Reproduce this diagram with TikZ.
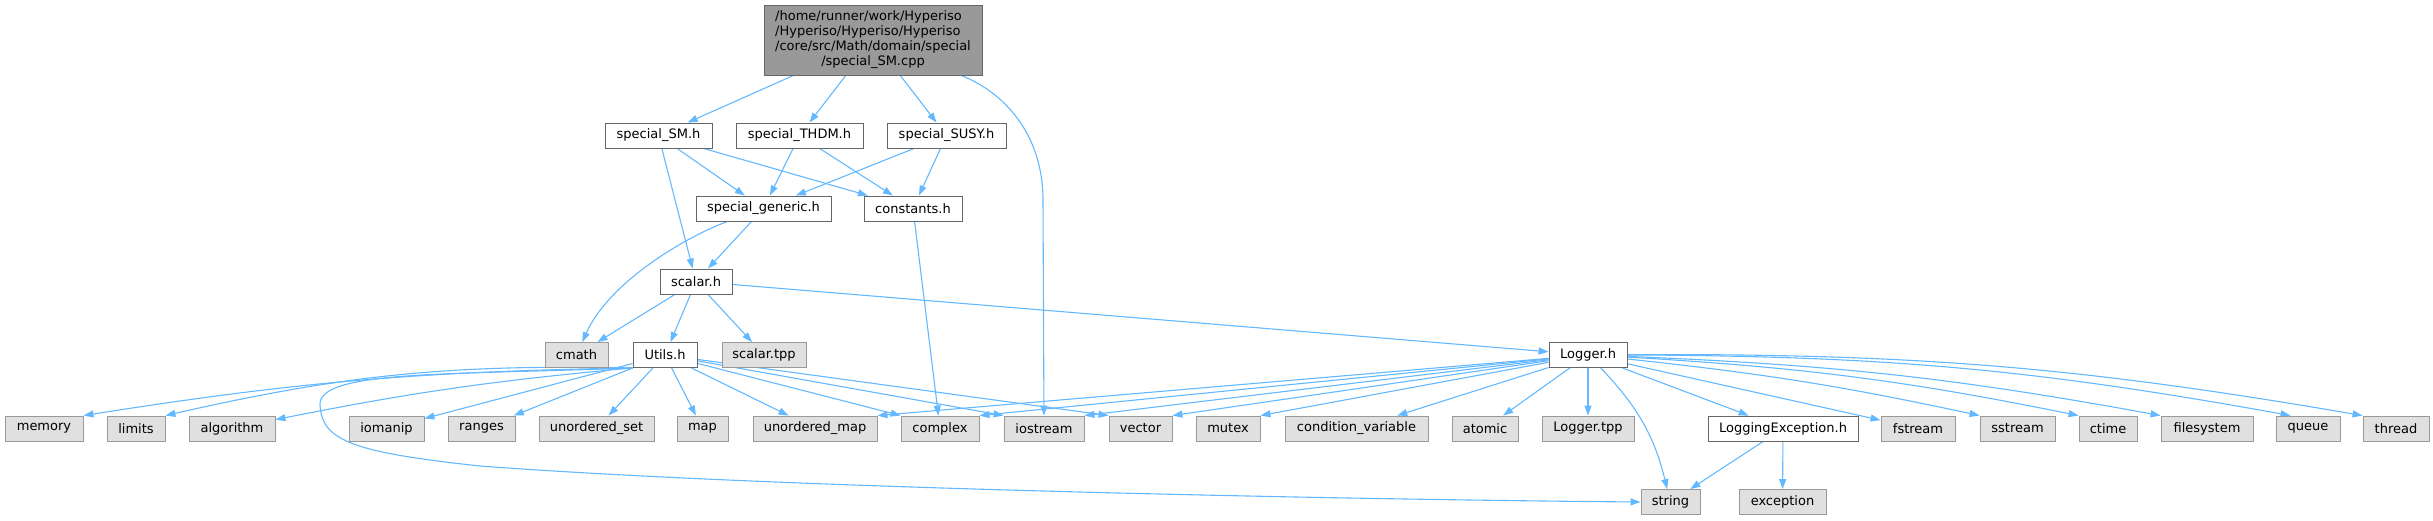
\documentclass[tikz,border=0pt]{standalone}
\usepackage{fontspec}
\setmainfont{DejaVu Sans}
\usetikzlibrary{arrows.meta,positioning,backgrounds}
\definecolor{edgeblue}{HTML}{63B8FF}
\definecolor{boxgray}{HTML}{E0E0E0}
\definecolor{rimgray}{HTML}{999999}
\definecolor{rimdark}{HTML}{666666}

\begin{document}
\begin{tikzpicture}[x=1pt,y=1pt,
  file/.style={draw=rimdark,fill=white,line width=0.9pt,minimum height=25pt,inner sep=0pt,font=\fontsize{13}{15}\selectfont},
  sys/.style={file,draw=rimgray,fill=boxgray},
  dep/.style={draw=edgeblue,line width=1.1pt,-{Triangle[length=10pt,width=7pt]}}]
\useasboundingbox (0,0) rectangle (2433,-520);

\node[file,fill=rimgray,minimum width=218,minimum height=70] (root) at (873,-40)
  {\begin{tabular}{@{}l@{}}/home/runner/work/Hyperiso\\/Hyperiso/Hyperiso/Hyperiso\\/core/src/Math/domain/special\\\multicolumn{1}{@{}c@{}}{/special\_SM.cpp}\end{tabular}};

\node[file,minimum width=107] (smh) at (658.5,-135.5) {special\_SM.h};
\node[file,minimum width=127] (thdm) at (799.5,-135.5) {special\_THDM.h};
\node[file,minimum width=119] (susy) at (946.5,-135.5) {special\_SUSY.h};
\node[file,minimum width=135] (generic) at (763.5,-208.5) {special\_generic.h};
\node[file,minimum width=98] (constants) at (913,-208.5) {constants.h};
\node[file,minimum width=72] (scalar) at (696,-281.5) {scalar.h};
\node[sys,minimum width=63] (cmath) at (576.5,-355) {cmath};
\node[file,minimum width=64] (utils) at (665,-355) {Utils.h};
\node[sys,minimum width=84] (scalartpp) at (764,-355) {scalar.tpp};
\node[file,minimum width=78] (logger) at (1588,-355) {Logger.h};

\node[sys,minimum width=78] (memory) at (44,-428.5) {memory};
\node[sys,minimum width=58] (limits) at (136,-428.5) {limits};
\node[sys,minimum width=86] (algorithm) at (232,-428.5) {algorithm};
\node[sys,minimum width=75] (iomanip) at (386.5,-428.5) {iomanip};
\node[sys,minimum width=67] (ranges) at (481.5,-428.5) {ranges};
\node[sys,minimum width=115] (uset) at (596.5,-428.5) {unordered\_set};
\node[sys,minimum width=51] (map) at (702.5,-428.5) {map};
\node[sys,minimum width=124] (umap) at (815,-428.5) {unordered\_map};
\node[sys,minimum width=78] (complex) at (940,-428.5) {complex};
\node[sys,minimum width=80] (iostream) at (1044,-428.5) {iostream};
\node[sys,minimum width=63] (vector) at (1140.5,-428.5) {vector};
\node[sys,minimum width=64] (mutex) at (1228,-428.5) {mutex};
\node[sys,minimum width=143] (condvar) at (1356.5,-428.5) {condition\_variable};
\node[sys,minimum width=66] (atomic) at (1485,-428.5) {atomic};
\node[sys,minimum width=92] (loggertpp) at (1588,-428.5) {Logger.tpp};
\node[file,minimum width=150] (logexc) at (1783,-428.5) {LoggingException.h};
\node[sys,minimum width=74] (fstream) at (1918,-428.5) {fstream};
\node[sys,minimum width=75] (sstream) at (2017.5,-428.5) {sstream};
\node[sys,minimum width=58] (ctime) at (2108,-428.5) {ctime};
\node[sys,minimum width=92] (filesystem) at (2207,-428.5) {filesystem};
\node[sys,minimum width=64] (queue) at (2308,-428.5) {queue};
\node[sys,minimum width=66] (thread) at (2396,-428.5) {thread};
\node[sys,minimum width=59] (string) at (1670.5,-502) {string};
\node[sys,minimum width=87] (exception) at (1782.5,-502) {exception};

\begin{scope}[on background layer]
\draw[dep] (root) -- (smh);
\draw[dep] (root) -- (thdm);
\draw[dep] (root) -- (susy);
\draw[dep] (root) .. controls (1010,-95) and (1043,-140) .. (1043,-200) -- (iostream);
\draw[dep] (smh) -- (generic);
\draw[dep] (smh) -- (constants);
\draw[dep] (smh) -- (scalar);
\draw[dep] (thdm) -- (generic);
\draw[dep] (thdm) -- (constants);
\draw[dep] (susy) -- (generic);
\draw[dep] (susy) -- (constants);
\draw[dep] (generic) .. controls (690,-235) and (610,-280) .. (cmath);
\draw[dep] (generic) -- (scalar);
\draw[dep] (constants) -- (complex);
\draw[dep] (scalar) -- (cmath);
\draw[dep] (scalar) -- (utils);
\draw[dep] (scalar) -- (scalartpp);
\draw[dep] (scalar) -- (logger);

\draw[dep] (utils.south west) to[bend right=4] (memory.north east);
\draw[dep] (utils.south west) to[bend right=7] (limits.north east);
\draw[dep] (utils.south west) to[bend right=3] (algorithm);
\draw[dep] (utils.south west) .. controls (450,-375) and (318,-370) .. (320,-405)
  .. controls (322,-440) and (350,-452) .. (480,-466)
  .. controls (800,-490) and (1400,-500) .. (string.west);
\draw[dep] (utils) -- (iomanip);
\draw[dep] (utils) -- (ranges);
\draw[dep] (utils) -- (uset);
\draw[dep] (utils) -- (map);
\draw[dep] (utils) -- (umap);
\draw[dep] (utils) -- (complex.north west);
\draw[dep] (utils) -- (iostream.north west);
\draw[dep] (utils) -- (vector.north west);

\draw[dep] (logger) -- (umap.north east);
\draw[dep] (logger) -- (complex.north east);
\draw[dep] (logger) -- (iostream.north east);
\draw[dep] (logger) -- (vector.north east);
\draw[dep] (logger) -- (mutex.north east);
\draw[dep] (logger) -- (condvar);
\draw[dep] (logger) -- (atomic);
\draw[dep] (logger) -- (loggertpp);
\draw[dep] (logger) to[bend left=15] (string);
\draw[dep] (logger) -- (logexc);
\draw[dep] (logger) -- (fstream);
\draw[dep] (logger) to[bend left=3] (sstream.north west);
\draw[dep] (logger) to[bend left=4] (ctime.north west);
\draw[dep] (logger) to[bend left=4] (filesystem.north west);
\draw[dep] (logger) to[bend left=5] ([xshift=15pt]queue.north west);
\draw[dep] (logger) to[bend left=5] (thread.north west);
\draw[dep] (logexc) -- (string);
\draw[dep] (logexc) -- (exception);
\end{scope}
\end{tikzpicture}
\end{document}
